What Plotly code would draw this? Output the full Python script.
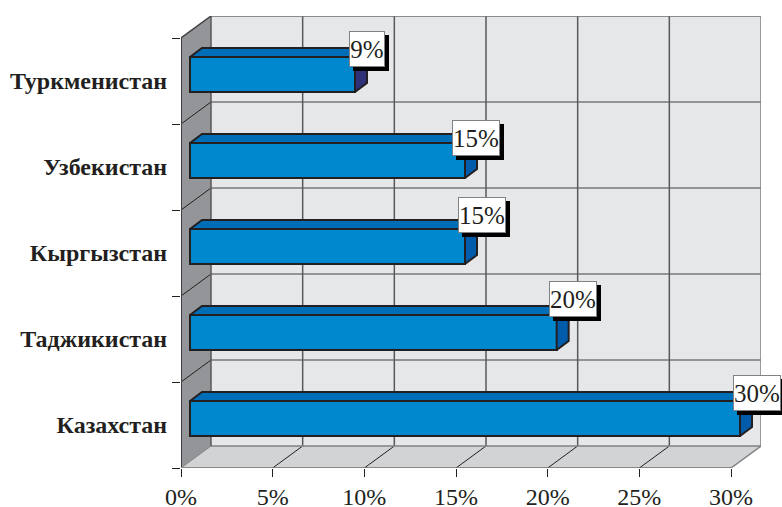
import plotly.graph_objects as go

categories = ["Казахстан", "Таджикистан", "Кыргызстан", "Узбекистан", "Туркменистан"]
values = [30, 20, 15, 15, 9]
x_tick_values = [0, 5, 10, 15, 20, 25, 30]
x_tick_labels = ["0%", "5%", "10%", "15%", "20%", "25%", "30%"]
band_edges = [0, 1, 2, 3, 4, 5]
band_centres = [0.5, 1.5, 2.5, 3.5, 4.5]
side_colors = ["#005cab", "#005cab", "#005cab", "#005cab", "#2e3178"]
# label box: left shift px, top shift px, box width px
box_styles = [(-7, 26, 48), (-8, 34, 48), (-7, 32, 48), (-13, 23, 48), (-6, 26, 36)]

W, H = 782, 507
L, R, T, B = 181, 761, 16, 468
PX = 550 / 30
PY = 86.0
X_MAX = (R - L) / PX
Y_MAX = (B - T) / PY
WALL_DX = 30 / PX
WALL_DY = 22 / PY
BAR_BASE = 9 / PX
BAR_SHIFT = 6.5 / PY
BAR_W = 35 / PY
BAR_DX = 12 / PX
BAR_DY = 9 / PY
INK = "#231f20"
SERIF = "Liberation Serif"

shapes = []
def poly(pts, fill, line=None, lw=0):
    path = "M " + " L ".join(f"{a},{b}" for a, b in pts) + " Z"
    shapes.append(dict(type="path", path=path, xref="x", yref="y", layer="below",
                       fillcolor=fill, line=dict(color=line or fill, width=lw)))
def seg(a, b, c, d, color, lw):
    shapes.append(dict(type="line", x0=a, y0=b, x1=c, y1=d, xref="x", yref="y",
                       layer="below", line=dict(color=color, width=lw)))

top = band_edges[-1]
right = x_tick_values[-1]
poly([(WALL_DX, WALL_DY), (X_MAX, WALL_DY), (X_MAX, Y_MAX), (WALL_DX, Y_MAX)], "#e6e7e8")
poly([(0, 0), (WALL_DX, WALL_DY), (WALL_DX, Y_MAX), (0, top)], "#939598")
poly([(0, 0), (right, 0), (X_MAX, WALL_DY), (WALL_DX, WALL_DY)], "#d1d3d4")

for e in band_edges[1:-1]:
    seg(0, e, WALL_DX, e + WALL_DY, INK, 1)
    seg(WALL_DX, e + WALL_DY, X_MAX, e + WALL_DY, "#414042", 1)
for v in x_tick_values[1:-1]:
    seg(v, 0, v + WALL_DX, WALL_DY, INK, 1)
    seg(v + WALL_DX, WALL_DY, v + WALL_DX, Y_MAX, "#58595b", 1.5)
seg(WALL_DX, Y_MAX, X_MAX, Y_MAX, "#6d6e71", 1.5)
seg(X_MAX, WALL_DY, X_MAX, Y_MAX, "#808285", 1.5)
seg(WALL_DX, WALL_DY, X_MAX, WALL_DY, "#808285", 1.5)
seg(WALL_DX, WALL_DY, WALL_DX, Y_MAX, "#58595b", 1.5)
seg(0, top, WALL_DX, Y_MAX, "#414042", 1.5)
seg(0, 0, 0, top, "#414042", 2)
seg(0, 0, right, 0, "#6d6e71", 1.5)
seg(0, 0, WALL_DX, WALL_DY, "#808285", 1)
seg(right, 0, X_MAX, WALL_DY, "#808285", 1.5)

fig = go.Figure()
fig.add_trace(go.Bar(
    y=[c + BAR_SHIFT for c in band_centres], x=values, base=BAR_BASE, width=BAR_W,
    orientation="h", marker=dict(color="#0088ce", line=dict(color=INK, width=2)),
    hoverinfo="skip", showlegend=False))

for c, v, side in zip(band_centres, values, side_colors):
    y0 = c + BAR_SHIFT - BAR_W / 2
    y1 = c + BAR_SHIFT + BAR_W / 2
    x0 = BAR_BASE
    x1 = BAR_BASE + v
    fig.add_trace(go.Scatter(
        x=[x0, x0 + BAR_DX, x1 + BAR_DX, x1, x0], y=[y1, y1 + BAR_DY, y1 + BAR_DY, y1, y1],
        mode="lines", fill="toself", fillcolor="#006db7", line=dict(color=INK, width=2),
        hoverinfo="skip", showlegend=False))
    fig.add_trace(go.Scatter(
        x=[x1, x1 + BAR_DX, x1 + BAR_DX, x1, x1], y=[y1, y1 + BAR_DY, y0 + BAR_DY, y0, y1],
        mode="lines", fill="toself", fillcolor=side, line=dict(color=INK, width=2),
        hoverinfo="skip", showlegend=False))

annotations = []
for c, v, (sx, sy, w) in zip(band_centres, values, box_styles):
    ax = BAR_BASE + v
    ay = c + BAR_SHIFT + BAR_W / 2
    common = dict(x=ax, y=ay, xref="x", yref="y", xanchor="left", yanchor="top", showarrow=False)
    annotations.append(dict(common, text=" ", width=w, height=36, bgcolor="#000000", borderpad=0,
                            borderwidth=0, xshift=sx + 4, yshift=sy - 4,
                            font=dict(size=20, family=SERIF)))
    annotations.append(dict(common, text=f"{v}%", width=w - 2, height=34, align="center",
                            bgcolor="#ffffff", bordercolor="#808285", borderwidth=1, borderpad=0,
                            xshift=sx, yshift=sy, font=dict(size=25, family=SERIF, color=INK)))

fig.update_layout(
    width=W, height=H,
    margin=dict(l=L, r=W - R, t=T, b=H - B, pad=0),
    paper_bgcolor="#ffffff", plot_bgcolor="rgba(0,0,0,0)",
    shapes=shapes, annotations=annotations, showlegend=False, bargap=0,
    xaxis=dict(range=[0, X_MAX], tickvals=x_tick_values, ticktext=x_tick_labels,
               showgrid=False, zeroline=False, showline=False, ticks="outside",
               ticklen=8, tickwidth=1.2, tickcolor=INK, automargin=False,
               ticklabelstandoff=-1,
               tickfont=dict(family=SERIF, size=24, color=INK)),
    yaxis=dict(range=[0, Y_MAX], tickvals=band_centres, ticktext=categories,
               showgrid=False, zeroline=False, showline=False, ticks="outside",
               ticklen=8, tickwidth=1, tickcolor="rgba(0,0,0,0)", automargin=False,
               ticklabelstandoff=0,
               minor=dict(tickvals=band_edges, ticks="outside", ticklen=8, tickwidth=1.2,
                          tickcolor=INK, showgrid=False),
               tickfont=dict(family=SERIF, size=24, color=INK, weight="bold")),
)
fig.write_html("out.html", config=dict(displayModeBar=False),
               post_script="document.body.style.margin='0';")
